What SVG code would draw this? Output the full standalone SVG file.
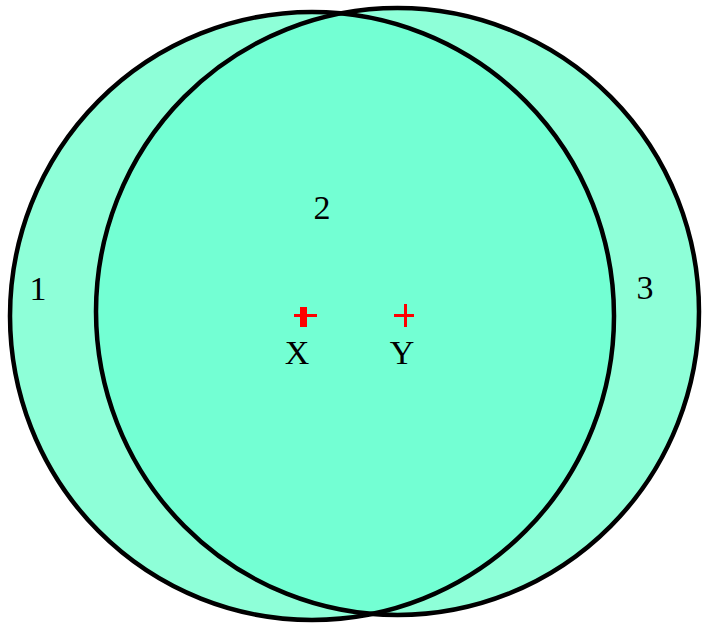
<svg xmlns="http://www.w3.org/2000/svg" width="702" height="626" viewBox="0 0 702 626">
<style>
.fill{fill:#8effd8;stroke:none}
.inter{fill:#73ffd3;stroke:none}
.edge{fill:none;stroke:#000;stroke-width:4.5}
.lbl{font-family:"Liberation Serif",serif;font-size:34px;fill:#000;text-anchor:middle}
.cross{stroke:#ff0000;fill:none}
</style>
<defs>
<clipPath id="clipL"><ellipse cx="312" cy="316" rx="302" ry="304"/></clipPath>
</defs>
<rect width="702" height="626" fill="#fff"/>
<g id="region1">
<ellipse class="fill" cx="312" cy="316" rx="302" ry="304"/>
</g>
<g id="region3">
<ellipse class="fill" cx="397.5" cy="311.5" rx="301.5" ry="303.5"/>
</g>
<g id="region2">
<ellipse class="inter" cx="397.5" cy="311.5" rx="301.5" ry="303.5" clip-path="url(#clipL)"/>
</g>
<g id="connectors">
<ellipse class="edge" cx="312" cy="316" rx="302" ry="304"/>
<ellipse class="edge" cx="397.5" cy="311.5" rx="301.5" ry="303.5"/>
</g>
<g id="labels">
<text class="lbl" x="38" y="300">1</text>
<text class="lbl" x="322" y="219">2</text>
<text class="lbl" x="645" y="299">3</text>
<text class="lbl" x="297" y="364">X</text>
<text class="lbl" x="402" y="364">Y</text>
</g>
<g id="pointX">
<line class="cross" x1="294" y1="315.5" x2="317" y2="315.5" stroke-width="3"/>
<line class="cross" x1="303.5" y1="307" x2="303.5" y2="327" stroke-width="7"/>
</g>
<g id="pointY">
<line class="cross" x1="394" y1="315.5" x2="414" y2="315.5" stroke-width="3"/>
<line class="cross" x1="405.5" y1="304" x2="405.5" y2="327" stroke-width="3"/>
</g>
</svg>
